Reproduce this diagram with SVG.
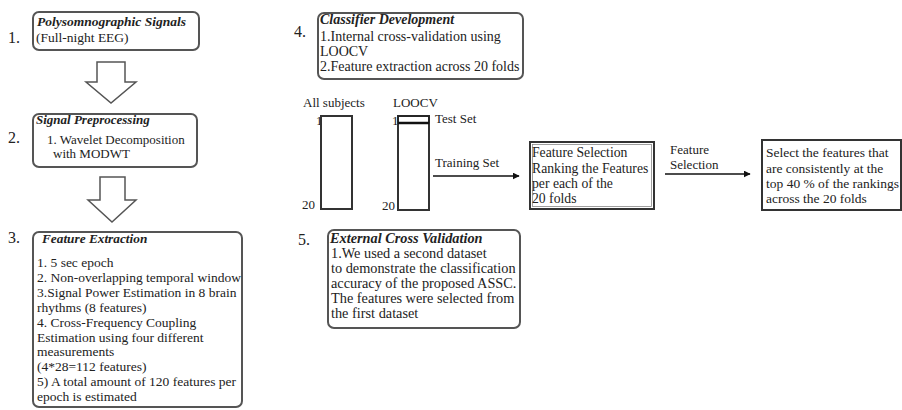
<svg xmlns="http://www.w3.org/2000/svg" width="902" height="410" viewBox="0 0 902 410">
<defs>
<marker id="ah" viewBox="0 0 10 10" refX="9" refY="5" markerWidth="7" markerHeight="7" orient="auto" markerUnits="userSpaceOnUse">
<path d="M0,0 L10,5 L0,10 z" fill="#111"/>
</marker>
</defs>
<style>
text{font-family:'Liberation Serif','DejaVu Serif',serif;fill:#222;font-size:13px}
.t{font-weight:bold;font-style:italic}
.n{font-size:16px}
.f135 text{font-size:13.5px}
.f137 text{font-size:13.7px}
.f14 text{font-size:14px}
.f143 text{font-size:14.3px}
.rb{fill:#fff;stroke:#555;stroke-width:2}
.sq{fill:#fff;stroke:#333;stroke-width:2}
.ln{stroke:#111;stroke-width:1.6;fill:none}
.ha{fill:#fff;stroke:#555;stroke-width:1.5}
</style>
<rect width="902" height="410" fill="#fff"/>

<g id="connectors">
<path class="ha" d="M97,62 H125 V82 H136 L111,103 L86,82 H97 Z"/>
<path class="ha" d="M100,177 H125 V200 H136 L112,222 L88,200 H100 Z"/>
<line class="ln" x1="433" y1="176" x2="519" y2="176" marker-end="url(#ah)"/>
<line class="ln" x1="665" y1="174" x2="750" y2="174" marker-end="url(#ah)"/>
</g>

<g id="node1" class="f135">
<text class="n" x="8" y="43" style="font-size:16px">1.</text>
<rect class="rb" x="33" y="12" width="166" height="38" rx="6"/>
<text class="t" x="37" y="26">Polysomnographic Signals</text>
<text x="36" y="42">(Full-night EEG)</text>
</g>

<g id="node2">
<text class="n" x="8" y="143">2.</text>
<rect class="rb" x="33" y="114" width="164" height="53" rx="6"/>
<text class="t" x="36" y="124">Signal Preprocessing</text>
<text x="47" y="144">1. Wavelet Decomposition</text>
<text x="53" y="158">with MODWT</text>
</g>

<g id="node3" class="f135">
<text class="n" x="8" y="243" style="font-size:16px">3.</text>
<rect class="rb" x="33" y="232" width="209" height="175" rx="6"/>
<text class="t" x="42" y="243" style="font-size:13.3px">Feature Extraction</text>
<text x="37" y="267">1. 5 sec epoch</text>
<text x="37" y="282">2. Non-overlapping temporal window</text>
<text x="37" y="297">3.Signal Power Estimation in 8 brain</text>
<text x="37" y="312">rhythms (8 features)</text>
<text x="37" y="327">4. Cross-Frequency Coupling</text>
<text x="37" y="342">Estimation using four different</text>
<text x="37" y="356">measurements</text>
<text x="37" y="371">(4*28=112 features)</text>
<text x="37" y="386">5) A total amount of 120 features per</text>
<text x="37" y="401">epoch is estimated</text>
</g>

<g id="node4" class="f14">
<text class="n" x="294" y="37" style="font-size:16px">4.</text>
<rect class="rb" x="318" y="13" width="205" height="66" rx="6"/>
<text class="t" x="320" y="24">Classifier Development</text>
<text x="320" y="41">1.Internal cross-validation using</text>
<text x="320" y="56">LOOCV</text>
<text x="320" y="71">2.Feature extraction across 20 folds</text>
</g>

<g id="subjects">
<text x="303" y="107">All subjects</text>
<text x="316" y="125">1</text>
<text x="302" y="209">20</text>
<rect class="sq" x="321" y="116" width="31" height="93" stroke-width="1.8"/>
</g>

<g id="loocv">
<text x="393" y="107">LOOCV</text>
<text x="392" y="125">1</text>
<text x="382" y="210">20</text>
<rect class="sq" x="398" y="116" width="31" height="94" stroke-width="1.8"/>
<rect x="398" y="116" width="31" height="7" fill="none" stroke="#222" stroke-width="1.4"/>
<line x1="398" y1="123" x2="429" y2="123" stroke="#111" stroke-width="2.5"/>
<text x="435" y="123">Test Set</text>
<text x="435" y="167">Training Set</text>
</g>

<g id="ranking" class="f137">
<rect class="sq" x="530" y="142" width="124" height="67"/>
<rect x="532.5" y="144.5" width="119" height="62" fill="none" stroke="#888" stroke-width="0.8"/>
<text x="532" y="157">Feature Selection</text>
<text x="532" y="173">Ranking the Features</text>
<text x="532" y="188">per each of the</text>
<text x="532" y="203">20 folds</text>
</g>

<g id="fslabel">
<text x="670" y="154">Feature</text>
<text x="670" y="169">Selection</text>
</g>

<g id="select" class="f135">
<rect class="sq" x="762" y="140" width="139" height="70"/>
<text x="766" y="157">Select the features that</text>
<text x="766" y="173">are consistently at   the</text>
<text x="766" y="188">top 40 % of the rankings</text>
<text x="766" y="203">across the 20 folds</text>
</g>

<g id="node5" class="f143">
<text class="n" x="298" y="245" style="font-size:16px">5.</text>
<rect class="rb" x="328" y="230" width="192" height="98" rx="6"/>
<text class="t" x="330" y="243">External Cross Validation</text>
<text x="331" y="258">1.We used a second dataset</text>
<text x="331" y="273">to demonstrate the classification</text>
<text x="331" y="288">accuracy of the proposed ASSC.</text>
<text x="331" y="303">The features were selected from</text>
<text x="331" y="318">the first dataset</text>
</g>
</svg>
